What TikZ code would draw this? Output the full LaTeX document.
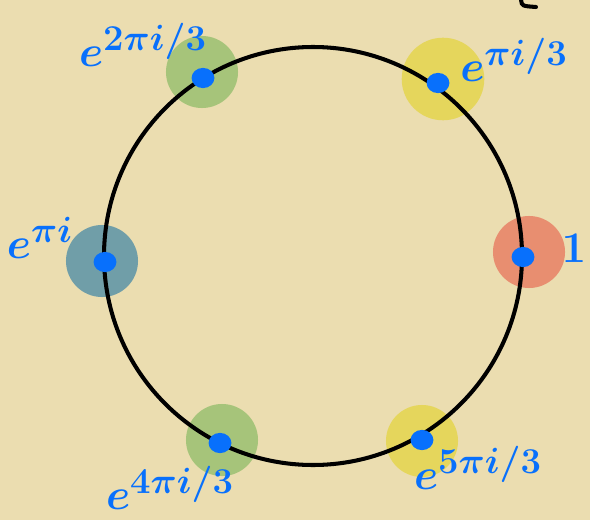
\documentclass[tikz,border=0pt]{standalone}
\usepackage{amsmath}

\definecolor{parchment}{RGB}{235,221,176}
\definecolor{ink}{RGB}{8,112,252}
\tikzstyle{blob red}=[circle, fill={rgb,255:red,232;green,142;blue,112}, minimum size=41pt, inner sep=0pt]
\tikzstyle{blob yellow}=[circle, fill={rgb,255:red,229;green,214;blue,92}, minimum size=41pt, inner sep=0pt]
\tikzstyle{blob green}=[circle, fill={rgb,255:red,166;green,196;blue,122}, minimum size=41pt, inner sep=0pt]
\tikzstyle{blob teal}=[circle, fill={rgb,255:red,112;green,158;blue,168}, minimum size=41pt, inner sep=0pt]
\tikzstyle{root}=[ellipse, fill=ink, minimum width=13pt, minimum height=11.5pt, inner sep=0pt]
\tikzstyle{rootlabel}=[text=ink, inner sep=0pt, font=\fontsize{32}{38}\selectfont\boldmath]
\usetikzlibrary{shapes.geometric}

\begin{document}
\begin{tikzpicture}[x=0.02cm, y=-0.02cm]
				% Paper
				\fill[parchment] (0,0) rectangle (590,520);
				\useasboundingbox (0,0) rectangle (590,520);

				% Coloured patches behind the roots
				\node[blob red]    (p0) at (529,252) {};
				\node[blob yellow, minimum size=47pt] (p1) at (443,79) {};
				\node[blob green]  (p2) at (202,72)  {};
				\node[blob teal]   (p3) at (102,261) {};
				\node[blob green]  (p4) at (222,440) {};
				\node[blob yellow] (p5) at (422,441) {};

				% Unit circle
				\coordinate (o) at (313,256);
				\draw[black, line width=2.3pt] (o) circle (209);
				\draw[black, line width=2.3pt, line cap=round] (521,0) .. controls (522,6) .. (536,7);

				% Sixth roots of unity
				\node[root] (z0) at (523,257) {};
				\node[root] (z1) at (438,83)  {};
				\node[root] (z2) at (203,78)  {};
				\node[root] (z3) at (105,262) {};
				\node[root] (z4) at (220,443) {};
				\node[root] (z5) at (422,440) {};

				\node[rootlabel] (l0) at (574,248) {$1$};
				\node[rootlabel] (l1) at (514,60)  {$e^{\pi i/3}$};
				\node[rootlabel] (l2) at (143,45)  {$e^{2\pi i/3}$};
				\node[rootlabel] (l3) at (40,238)  {$e^{\pi i}$};
				\node[rootlabel] (l4) at (170,488) {$e^{4\pi i/3}$};
				\node[rootlabel] (l5) at (478,468) {$e^{5\pi i/3}$};
			\end{tikzpicture}
\end{document}
